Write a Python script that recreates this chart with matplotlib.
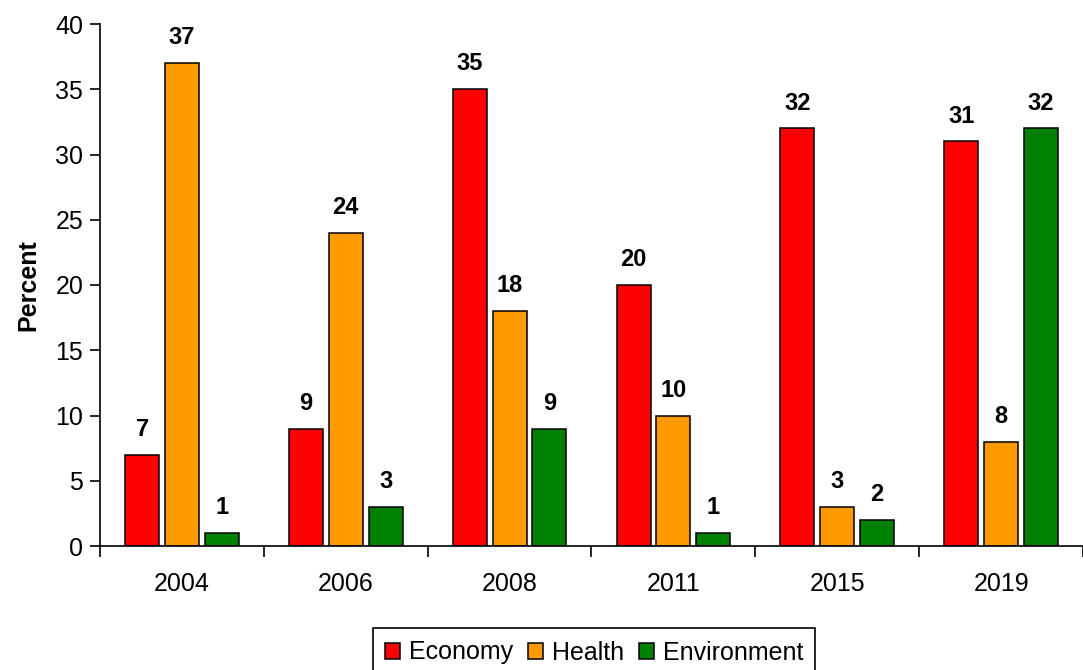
import matplotlib.pyplot as plt
import numpy as np

plt.rcParams['font.family'] = ['Liberation Sans', 'DejaVu Sans']

years = ['2004', '2006', '2008', '2011', '2015', '2019']
economy = [7, 9, 35, 20, 32, 31]
health = [37, 24, 18, 10, 3, 8]
environment = [1, 3, 9, 1, 2, 32]

series = [('Economy', economy, '#FF0000'),
          ('Health', health, '#FF9900'),
          ('Environment', environment, '#008000')]

fig = plt.figure(figsize=(10.83, 6.70), dpi=100)
ax = fig.add_axes([100 / 1083, 1 - 546 / 670, 1 - 100 / 1083, (546 - 24) / 670])

x = np.arange(len(years))
step = 0.243
width = 0.207
for i, (name, vals, col) in enumerate(series):
    pos = x + (i - 1) * step
    ax.bar(pos, vals, width, color=col, edgecolor='black', linewidth=1.1, label=name)
    for p, v in zip(pos, vals):
        ax.annotate(str(v), (p, v), xytext=(0, 10), textcoords='offset points',
                    ha='center', va='bottom', fontsize=17, fontweight='bold')

ax.set_xlim(-0.5, 5.5)
ax.set_ylim(0, 40)
ax.set_yticks(range(0, 41, 5))
ax.tick_params(axis='y', labelsize=18, length=7, width=1.2, pad=5)

# tick marks between the groups, year labels at the group centres
ax.set_xticks(np.arange(-0.5, 5.6, 1))
ax.set_xticklabels([])
ax.set_xticks(x, minor=True)
ax.set_xticklabels(years, minor=True)
ax.tick_params(axis='x', which='major', length=8, width=1.2)
ax.tick_params(axis='x', which='minor', length=0, labelsize=18, pad=19)

for s in ['top', 'right']:
    ax.spines[s].set_visible(False)
for s in ['left', 'bottom']:
    ax.spines[s].set_linewidth(1.2)

ax.set_ylabel('Percent', fontsize=18, fontweight='bold', labelpad=11)

leg = ax.legend(loc='upper center', bbox_to_anchor=(594 / 1083, 1 - 628 / 670),
                bbox_transform=fig.transFigure, ncol=3, fontsize=18,
                frameon=True, fancybox=False, edgecolor='black', framealpha=1,
                handlelength=0.6, handleheight=0.6, handletextpad=0.35,
                columnspacing=0.6, borderpad=0.5, borderaxespad=0)
leg.get_frame().set_linewidth(1.2)

fig.savefig('out.png', dpi=100)
